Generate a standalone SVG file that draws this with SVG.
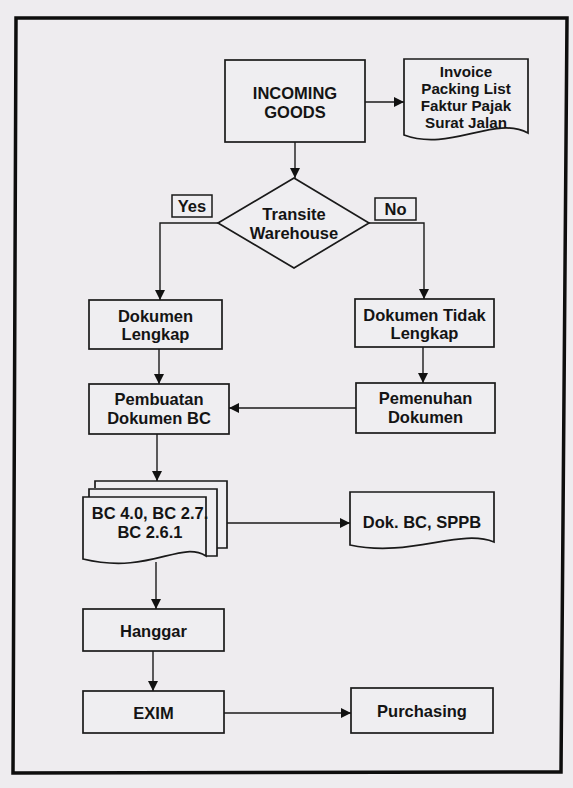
<svg xmlns="http://www.w3.org/2000/svg" width="573" height="788" viewBox="0 0 573 788">
<defs>
<marker id="ah" viewBox="0 0 10 10" refX="10" refY="5" markerWidth="11" markerHeight="10" markerUnits="userSpaceOnUse" orient="auto">
<path d="M0,0 L10,5 L0,10 Z" fill="#111"/>
</marker>
</defs>
<style>
.bg{fill:#eeecef}
.box{fill:#efeef1;stroke:#1a1a1a;stroke-width:1.7}
.lbl{fill:#efeef1;stroke:#1a1a1a;stroke-width:1.5}
.t{font-family:"Liberation Sans",Arial,sans-serif;font-weight:bold;font-size:16.5px;fill:#141414;text-anchor:middle}
.ts{font-size:15.2px}
.c{fill:none;stroke:#1a1a1a;stroke-width:1.4}
.frame{fill:none;stroke:#0d0d0d;stroke-width:3.5}
</style>
<rect class="bg" x="0" y="0" width="573" height="788"/>
<path class="frame" d="M16,18 L567,18 L561,772 L13,773 Z"/>

<g id="incoming-goods">
<rect class="box" x="225" y="60" width="140" height="82"/>
<text class="t" x="295" y="99">INCOMING</text>
<text class="t" x="295" y="118">GOODS</text>
</g>

<g id="invoice-docs">
<path class="box" d="M404,59 H528 V133 C495,115 450,152 404,135 Z"/>
<text class="t ts" x="466" y="77">Invoice</text>
<text class="t ts" x="466" y="94">Packing List</text>
<text class="t ts" x="466" y="111">Faktur Pajak</text>
<text class="t ts" x="466" y="128">Surat Jalan</text>
</g>

<g id="transite-warehouse">
<path class="box" d="M294,178 L369,223 L294,268 L218,223 Z"/>
<text class="t" x="294" y="220">Transite</text>
<text class="t" x="294" y="239">Warehouse</text>
</g>

<g id="label-yes">
<rect class="lbl" x="172" y="195" width="40" height="22"/>
<text class="t" x="192" y="212">Yes</text>
</g>

<g id="label-no">
<rect class="lbl" x="375" y="198" width="41" height="22"/>
<text class="t" x="395.5" y="215">No</text>
</g>

<g id="dokumen-lengkap">
<rect class="box" x="89" y="300" width="133" height="49"/>
<text class="t" x="155.5" y="322">Dokumen</text>
<text class="t" x="155.5" y="340">Lengkap</text>
</g>

<g id="dokumen-tidak-lengkap">
<rect class="box" x="355" y="299" width="139" height="48"/>
<text class="t" x="424.5" y="321">Dokumen Tidak</text>
<text class="t" x="424.5" y="339">Lengkap</text>
</g>

<g id="pembuatan-dokumen-bc">
<rect class="box" x="89" y="384" width="140" height="50"/>
<text class="t" x="159" y="405">Pembuatan</text>
<text class="t" x="159" y="424">Dokumen BC</text>
</g>

<g id="pemenuhan-dokumen">
<rect class="box" x="356" y="383" width="139" height="50"/>
<text class="t" x="425.5" y="404">Pemenuhan</text>
<text class="t" x="425.5" y="423">Dokumen</text>
</g>

<g id="bc-documents">
<path class="box" d="M95,488 V481 H227 V548 H217"/>
<path class="box" d="M89,497 V489 H217 V556 H206"/>
<path class="box" d="M83,497 H206 V556 C180,540 150,575 83,559 Z"/>
<text class="t" x="150" y="519">BC 4.0, BC 2.7.</text>
<text class="t" x="150" y="538">BC 2.6.1</text>
</g>

<g id="dok-bc-sppb">
<path class="box" d="M350,492 H494 V542 C460,528 410,558 350,545 Z"/>
<text class="t" x="422" y="528">Dok. BC, SPPB</text>
</g>

<g id="hanggar">
<rect class="box" x="83" y="609" width="141" height="42"/>
<text class="t" x="153.5" y="637">Hanggar</text>
</g>

<g id="exim">
<rect class="box" x="83" y="691" width="141" height="42"/>
<text class="t" x="153.5" y="719">EXIM</text>
</g>

<g id="purchasing">
<rect class="box" x="351" y="688" width="142" height="45"/>
<text class="t" x="422" y="717">Purchasing</text>
</g>

<g id="connectors">
<path class="c" d="M365,102 H404" marker-end="url(#ah)"/>
<path class="c" d="M295,142 V178" marker-end="url(#ah)"/>
<path class="c" d="M218,223 H160 V300" marker-end="url(#ah)"/>
<path class="c" d="M369,223 H424 V299" marker-end="url(#ah)"/>
<path class="c" d="M159,349 V384" marker-end="url(#ah)"/>
<path class="c" d="M423,347 V383" marker-end="url(#ah)"/>
<path class="c" d="M356,408 H229" marker-end="url(#ah)"/>
<path class="c" d="M157,434 V481" marker-end="url(#ah)"/>
<path class="c" d="M227,523 H350" marker-end="url(#ah)"/>
<path class="c" d="M156,562 V609" marker-end="url(#ah)"/>
<path class="c" d="M153,651 V691" marker-end="url(#ah)"/>
<path class="c" d="M224,713 H351" marker-end="url(#ah)"/>
</g>
</svg>
